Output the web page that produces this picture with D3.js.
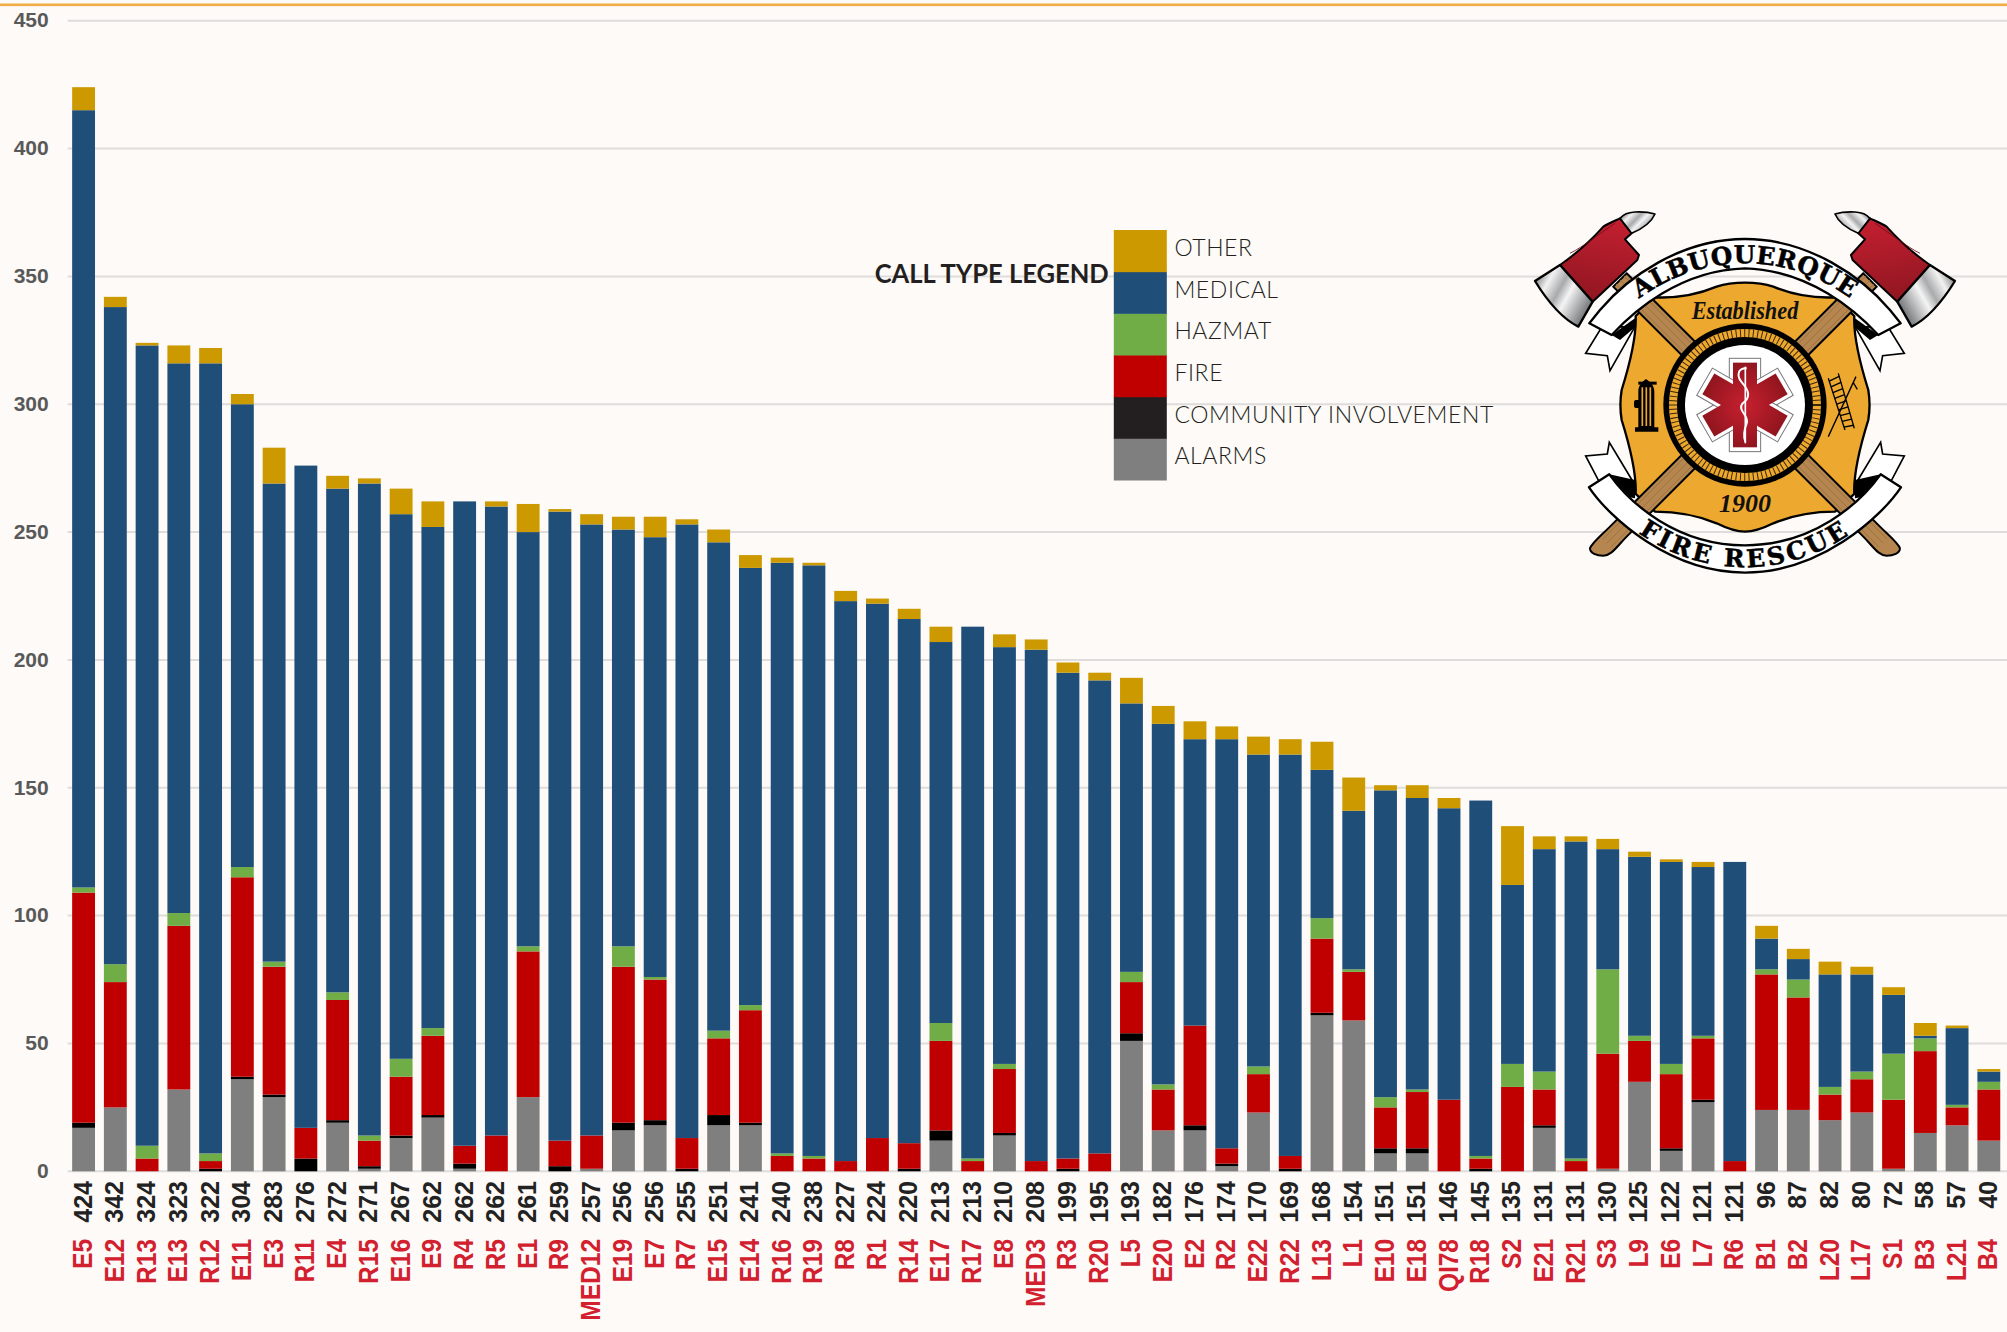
<!DOCTYPE html>
<html>
<head>
<meta charset="utf-8">
<script src="https://cdn.jsdelivr.net/npm/d3@7"></script>
<style>
  html, body { margin: 0; padding: 0; background: #FDFAF7; }
  svg { display: block; }
</style>
</head>
<body>
<svg id="chart" width="2007" height="1332"></svg>
<script>
const units = ["E5","E12","R13","E13","R12","E11","E3","R11","E4","R15","E16","E9","R4","R5","E1","R9","MED12","E19","E7","R7",
  "E15","E14","R16","R19","R8","R1","R14","E17","R17","E8","MED3","R3","R20","L5","E20","E2","R2","E22","R22","L13",
  "L1","E10","E18","QI78","R18","S2","E21","R21","S3","L9","E6","L7","R6","B1","B2","L20","L17","S1","B3","L21","B4"];

const totals = [424,342,324,323,322,304,283,276,272,271,267,262,262,262,261,259,257,256,256,255,
  251,241,240,238,227,224,220,213,213,210,208,199,195,193,182,176,174,170,169,168,
  154,151,151,146,145,135,131,131,130,125,122,121,121,96,87,82,80,72,58,57,40];

const alarms = [17,25,0,32,0,36,29,0,19,1,13,21,1,0,29,0,1,16,18,0,
  18,18,0,0,0,0,0,12,0,14,0,0,0,51,16,16,2,23,0,61,
  59,7,7,0,0,0,17,0,1,35,8,27,0,24,24,20,23,1,15,18,12];
const community = [2,0,0,0,1,1,1,5,1,1,1,1,2,0,0,2,0,3,2,1,
  4,1,0,0,0,0,1,4,0,1,0,1,0,3,0,2,1,0,1,1,
  0,2,2,0,1,0,1,0,0,0,1,1,0,0,0,0,0,0,0,0,0];
const fire = [90,49,5,64,3,78,50,12,47,10,23,31,7,14,57,10,13,61,55,12,
  30,44,6,5,4,13,10,35,4,25,4,4,7,20,16,39,6,15,5,29,
  19,16,22,28,4,33,14,4,45,16,29,24,4,53,44,10,13,27,32,7,20];
const hazmat = [2,7,5,5,3,4,2,0,3,2,7,3,0,0,2,0,0,8,1,0,
  3,2,1,1,0,0,0,7,1,2,0,0,0,4,2,0,0,3,0,8,
  1,4,1,0,1,9,7,1,33,2,4,1,0,2,7,3,3,18,5,1,3];
const medical = [304,257,313,215,309,181,187,259,197,255,213,196,252,246,162,246,239,163,172,240,
  191,171,231,231,219,209,205,149,208,163,200,190,185,105,141,112,160,122,157,58,
  62,120,114,114,139,70,87,124,47,70,79,66,117,12,8,44,38,23,1,30,4];
const other = [9,4,1,7,6,4,14,0,5,2,10,10,0,2,11,1,4,5,8,2,
  5,5,2,1,4,2,4,6,0,5,4,4,3,10,7,7,5,7,6,11,
  13,2,5,4,0,23,5,2,4,2,1,2,0,5,4,5,3,3,5,1,1];

const seriesKeys = ["ALARMS","COMMUNITY INVOLVEMENT","FIRE","HAZMAT","MEDICAL","OTHER"];
const seriesValues = [alarms, community, fire, hazmat, medical, other];
const barColors = ["#7F7F7F","#000000","#C00000","#70AD47","#1F4E79","#CC9900"];
const legendColors = ["#7F7F7F","#231F20","#C00000","#70AD47","#1F4E79","#CC9900"];
const yTicks = [0,50,100,150,200,250,300,350,400,450];

const CHART_W = 2007;
const AXIS_X0 = 67.7, AXIS_X1 = 2004.7;
const Y_ZERO = 1171.3, Y_TOP = 20.7;

const chart = d3.select("#chart");

chart.append("rect").attr("width", CHART_W).attr("height", 1332).attr("fill", "#FDFAF7");
chart.append("rect").attr("x", 0).attr("y", 3.5).attr("width", CHART_W).attr("height", 2.6).attr("fill", "#F0AC45");

const x = d3.scaleBand().domain(units).range([AXIS_X0, AXIS_X1]).paddingInner(0.28).paddingOuter(0.14);
const y = d3.scaleLinear().domain([0, 450]).range([Y_ZERO, Y_TOP]);

// gridlines + value axis
const yAxis = chart.append("g")
  .attr("transform", `translate(${AXIS_X0},0)`)
  .call(d3.axisLeft(y).offset(0).tickValues(yTicks).tickSize(-(CHART_W - AXIS_X0)).tickPadding(19));
yAxis.select(".domain").remove();
yAxis.selectAll("line").attr("stroke", "#DEDDDB").attr("stroke-width", 2);
yAxis.selectAll("text")
  .attr("font-family", "Liberation Sans").attr("font-weight", 700)
  .attr("font-size", 21).attr("fill", "#595959");

// stacked bars
const rows = units.map((u, i) => {
  const row = { unit: u };
  seriesKeys.forEach((k, s) => { row[k] = seriesValues[s][i]; });
  return row;
});
const stacked = d3.stack().keys(seriesKeys)(rows);

chart.append("g").selectAll("g")
  .data(stacked)
  .enter()
  .append("g")
  .attr("fill", (d, i) => barColors[i])
  .selectAll("rect")
  .data(d => d)
  .enter()
  .append("rect")
  .attr("x", d => x(d.data.unit))
  .attr("width", x.bandwidth())
  .attr("y", d => y(d[1]))
  .attr("height", d => y(d[0]) - y(d[1]));

// two rows of rotated labels, totals then unit names
function labelAxis(yPos, fmt, color, size, stretch) {
  const g = chart.append("g")
    .attr("transform", `translate(0,${yPos})`)
    .call(d3.axisBottom(x).offset(0).tickSize(0).tickPadding(0).tickFormat(fmt));
  g.select(".domain").remove();
  g.selectAll("text")
    .attr("font-family", "Liberation Sans").attr("font-weight", 700)
    .attr("font-size", size).attr("fill", color)
    .attr("text-anchor", "end")
    .attr("transform", `rotate(-90) scale(1,${stretch})`)
    .attr("x", 0).attr("y", 0).attr("dy", "0.3em");
}
labelAxis(1181, (d, i) => totals[i], "#222222", 25, 1.06);
labelAxis(1239, d => d, "#D2202F", 24.5, 1.16);

// legend
const legend = chart.append("g");
const legendY = d3.scaleBand().domain(seriesKeys.slice().reverse()).range([230, 480]);
legend.selectAll("rect")
  .data(seriesKeys)
  .enter()
  .append("rect")
  .attr("x", 1113.8)
  .attr("width", 53)
  .attr("y", d => legendY(d))
  .attr("height", legendY.bandwidth() + 0.5)
  .attr("fill", (d, i) => legendColors[i]);
legend.selectAll("text")
  .data(seriesKeys)
  .enter()
  .append("text")
  .attr("x", 1174.4)
  .attr("y", d => legendY(d) + 26)
  .attr("font-family", "Lato").attr("font-weight", 300)
  .attr("font-size", 23).attr("letter-spacing", 0.6).attr("fill", "#231F20")
  .text(d => d);
chart.append("text")
  .attr("x", 874.7).attr("y", 282.7)
  .attr("textLength", 234).attr("lengthAdjust", "spacingAndGlyphs")
  .attr("font-family", "Lato").attr("font-weight", 700)
  .attr("font-size", 26).attr("fill", "#231F20")
  .text("CALL TYPE LEGEND");

// logo, drawn in 3x units so the pieces are easier to place
const logo = chart.append("g").attr("transform", "translate(1520,190) scale(0.3333)");
const defs = chart.append("defs");

const steel = defs.append("linearGradient").attr("id", "steel").attr("x1", 0).attr("x2", 1).attr("y1", 0.2).attr("y2", 0.8);
[[0, "#7a7b7d"], [0.2, "#f2f2f2"], [0.4, "#a9aaac"], [0.55, "#f4f4f4"], [0.8, "#9b9c9e"], [1, "#55565a"]]
  .forEach(s => steel.append("stop").attr("offset", s[0]).attr("stop-color", s[1]));
const axeRed = defs.append("linearGradient").attr("id", "axeRed").attr("x1", 0.5).attr("x2", 0.3).attr("y1", 0).attr("y2", 1);
[[0, "#C21F30"], [1, "#8E1620"]].forEach(s => axeRed.append("stop").attr("offset", s[0]).attr("stop-color", s[1]));
const starRed = defs.append("radialGradient").attr("id", "starRed")
  .attr("gradientUnits", "userSpaceOnUse").attr("cx", 675).attr("cy", 645).attr("r", 130);
[[0, "#C8202F"], [1, "#8F151E"]].forEach(s => starRed.append("stop").attr("offset", s[0]).attr("stop-color", s[1]));

defs.append("path").attr("id", "arcTop").attr("d", "M250,425 C330,330 480,220 675,220 C870,220 1020,330 1100,425");
defs.append("path").attr("id", "arcBottom").attr("d", "M240,915 C300,1010 470,1132 675,1132 C880,1132 1050,1010 1110,915");

function bothSides(draw) {
  draw(logo.append("g"));
  draw(logo.append("g").attr("transform", "translate(1350,0) scale(-1,1)"));
}

// ribbon tails
bothSides(g => {
  g.append("path").attr("d", "M345,410 L270,542 L262,497 L197,490 L245,412 Z")
    .attr("fill", "#fff").attr("stroke", "#000").attr("stroke-width", 5);
  g.append("path").attr("d", "M345,885 L268,757 L262,792 L197,798 L240,880 Z")
    .attr("fill", "#fff").attr("stroke", "#000").attr("stroke-width", 5);
  g.append("path").attr("d", "M275,435 L345,385 L345,412 L300,450 Z").attr("fill", "#000");
  g.append("path").attr("d", "M268,853 L345,870 L345,925 L320,920 Z").attr("fill", "#000");
});

// gold cross
logo.append("path")
  .attr("d", "M405,322 C470,325 530,315 590,290 C620,280 650,278 675,278 C700,278 730,280 760,290 C820,315 880,325 945,322 " +
    "L1003,378 C1000,440 1020,520 1045,600 C1050,630 1050,660 1045,690 C1020,770 1000,850 1003,912 " +
    "L945,965 C880,965 820,975 760,1000 C730,1015 700,1025 675,1025 C650,1025 620,1015 590,1000 C530,975 470,965 405,965 " +
    "L347,912 C350,850 330,770 305,690 C300,660 300,630 305,600 C330,520 350,440 347,378 Z")
  .attr("fill", "#EDA82F").attr("stroke", "#000").attr("stroke-width", 7).attr("stroke-linejoin", "round");

// crossed handles
bothSides(g => {
  g.append("path")
    .attr("d", "M320,250 L1080,1010 C1110,1040 1135,1060 1140,1075 C1140,1090 1120,1097 1100,1097 C1075,1097 1060,1070 1030,1040 L280,290 Z")
    .attr("fill", "#B5864F").attr("stroke", "#000").attr("stroke-width", 6);
  [-12, 0, 12].forEach(o => {
    g.append("line").attr("x1", 300 + o).attr("y1", 270 - o).attr("x2", 1090 + o).attr("y2", 1060 - o)
      .attr("stroke", "#9A6F3B").attr("stroke-width", 2.5);
  });
});

// seal rings
logo.append("circle").attr("cx", 675).attr("cy", 645).attr("r", 245).attr("fill", "#000");
logo.append("circle").attr("cx", 675).attr("cy", 645).attr("r", 216).attr("fill", "none")
  .attr("stroke", "#EDA82F").attr("stroke-width", 24);
logo.append("circle").attr("cx", 675).attr("cy", 645).attr("r", 216).attr("fill", "none")
  .attr("stroke", "#3a2608").attr("stroke-width", 24).attr("stroke-dasharray", "3 10");
logo.append("circle").attr("cx", 675).attr("cy", 645).attr("r", 180).attr("fill", "#fff");

// star of life
[0, 60, 120].forEach(a => {
  logo.append("rect").attr("x", 675 - 47).attr("y", 505).attr("width", 94).attr("height", 280)
    .attr("transform", `rotate(${a},675,645)`).attr("fill", "#fff").attr("stroke", "#777").attr("stroke-width", 3);
});
[0, 60, 120].forEach(a => {
  logo.append("rect").attr("x", 675 - 36).attr("y", 518).attr("width", 72).attr("height", 254)
    .attr("transform", `rotate(${a},675,645)`).attr("fill", "url(#starRed)");
});
logo.append("line").attr("x1", 676).attr("y1", 530).attr("x2", 676).attr("y2", 760)
  .attr("stroke", "#fff").attr("stroke-width", 5);
logo.append("path")
  .attr("d", "M680,535 C650,535 650,560 668,580 C690,605 690,625 668,640 C650,660 690,680 680,700 C672,720 670,740 676,755")
  .attr("fill", "none").attr("stroke", "#fff").attr("stroke-width", 6);

// hydrant
logo.append("path").attr("d", "M345,725 L345,712 L355,712 L355,605 C355,585 365,578 378,567 C392,578 403,585 403,605 L403,712 L415,712 L415,725 Z")
  .attr("fill", "#000");
[367, 379, 391].forEach(px => {
  logo.append("line").attr("x1", px).attr("y1", 592).attr("x2", px).attr("y2", 708)
    .attr("stroke", "#EDA82F").attr("stroke-width", 5);
});
logo.append("rect").attr("x", 342).attr("y", 630).attr("width", 18).attr("height", 24).attr("rx", 6).attr("fill", "#000");
logo.append("rect").attr("x", 355).attr("y", 575).attr("width", 55).attr("height", 9).attr("fill", "#000");

// ladder and pike
logo.append("g").attr("stroke", "#000").attr("stroke-width", 4).attr("fill", "none").call(g => {
  g.append("path").attr("d", "M925,565 L975,720 M955,550 L1003,715 M925,740 L1008,560 M1000,578 L1012,598");
  d3.range(9).forEach(i => {
    const t = (i + 0.5) / 9;
    g.append("line")
      .attr("x1", 925 + 50 * t).attr("y1", 565 + 155 * t)
      .attr("x2", 955 + 48 * t).attr("y2", 550 + 165 * t);
  });
});

// axe heads
bothSides(g => {
  g.append("path").attr("d", "M120,225 C170,190 210,155 250,110 C265,100 285,92 300,85 L335,130 L315,148 L357,195 L352,210 L218,335 Z")
    .attr("fill", "url(#axeRed)").attr("stroke", "#000").attr("stroke-width", 6).attr("stroke-linejoin", "round");
  g.append("path").attr("d", "M150,190 C190,170 240,130 285,100")
    .attr("fill", "none").attr("stroke", "#6e0f18").attr("stroke-width", 2.5);
  g.append("path").attr("d", "M45,273 C80,330 125,385 175,410 L218,335 L120,225 Z")
    .attr("fill", "url(#steel)").attr("stroke", "#000").attr("stroke-width", 7).attr("stroke-linejoin", "round");
  g.append("path").attr("d", "M300,85 C312,72 322,68 345,66 C365,65 385,66 405,72 C395,95 370,115 335,130 Z")
    .attr("fill", "url(#steel)").attr("stroke", "#000").attr("stroke-width", 5).attr("stroke-linejoin", "round");
});

// ribbons
logo.append("path")
  .attr("d", "M208,400 L240,360 C320,265 480,147 675,147 C870,147 1030,265 1110,360 L1142,400 L1075,435 " +
    "C1010,365 870,240 675,235 C480,240 340,365 275,435 Z")
  .attr("fill", "#fff").attr("stroke", "#000").attr("stroke-width", 7).attr("stroke-linejoin", "round");
logo.append("path")
  .attr("d", "M207,892 L268,853 C330,940 470,1066 675,1066 C880,1066 1020,940 1082,853 L1143,892 " +
    "C1080,985 900,1148 675,1148 C450,1148 270,985 207,892 Z")
  .attr("fill", "#fff").attr("stroke", "#000").attr("stroke-width", 7).attr("stroke-linejoin", "round");

function ribbonText(id, label, size, spacing) {
  logo.append("text")
    .attr("font-family", "DejaVu Serif").attr("font-weight", 700)
    .attr("font-size", size).attr("letter-spacing", spacing).attr("fill", "#000")
    .attr("stroke", "#000").attr("stroke-width", 1.5)
    .append("textPath").attr("href", "#" + id).attr("startOffset", "50%")
    .attr("text-anchor", "middle").text(label);
}
ribbonText("arcTop", "ALBUQUERQUE", 74, 1);
ribbonText("arcBottom", "FIRE RESCUE", 74, 9);

logo.append("text").attr("x", 675).attr("y", 388).attr("text-anchor", "middle")
  .attr("textLength", 320).attr("lengthAdjust", "spacingAndGlyphs")
  .attr("font-family", "Liberation Serif").attr("font-style", "italic").attr("font-weight", 700)
  .attr("font-size", 78).attr("fill", "#111").text("Established");
logo.append("text").attr("x", 675).attr("y", 966).attr("text-anchor", "middle")
  .attr("font-family", "Liberation Serif").attr("font-style", "italic").attr("font-weight", 700)
  .attr("font-size", 78).attr("fill", "#111").text("1900");
</script>
</body>
</html>
